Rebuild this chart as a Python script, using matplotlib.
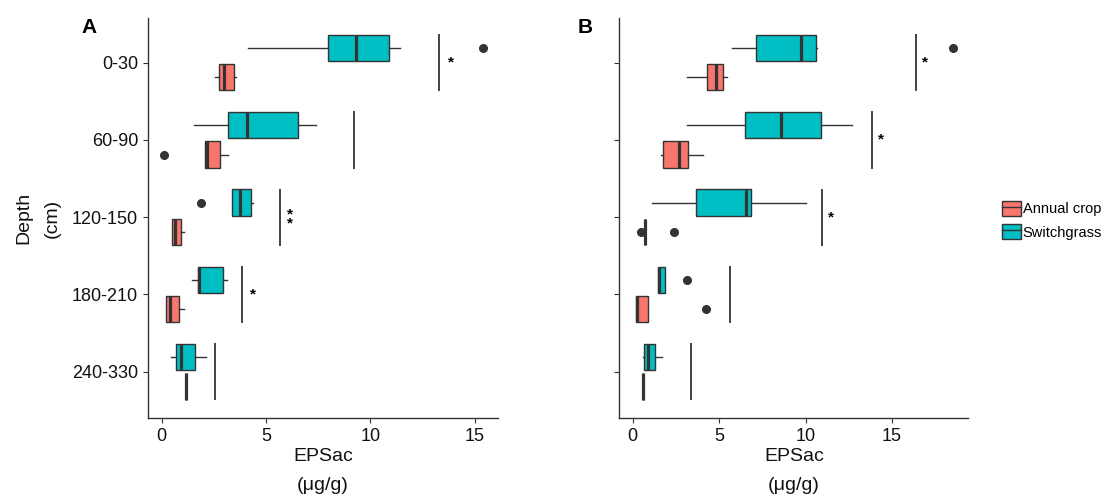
import numpy as np
import matplotlib.pyplot as plt
from matplotlib.patches import Patch
from matplotlib.lines import Line2D

plt.rcParams['font.family'] = ['Liberation Sans', 'DejaVu Sans']

depths = ['0-30', '60-90', '120-150', '180-210', '240-330']

# box stats per depth: (whisker low, q1, median, q3, whisker high)
sw_a = [(4.16, 7.97, 9.30, 10.90, 11.43),
        (1.55, 3.20, 4.10, 6.54, 7.40),
        (3.38, 3.38, 3.75, 4.26, 4.37),
        (1.44, 1.74, 1.79, 2.94, 3.13),
        (0.46, 0.70, 0.94, 1.58, 2.14)]
sw_a_out = [[15.4], [], [1.88], [], []]
ac_a = [(2.54, 2.73, 2.98, 3.49, 3.57),
        (2.10, 2.10, 2.19, 2.82, 3.19),
        (0.51, 0.51, 0.65, 0.91, 1.07),
        (0.22, 0.22, 0.40, 0.83, 1.07),
        (1.16, 1.16, 1.16, 1.16, 1.16)]
ac_a_out = [[], [0.14], [], [], []]
sig_a = [13.28, 9.23, 5.69, 3.83, 2.57]
stars_a = ['*', '', '**', '*', '']

sw_b = [(5.76, 7.13, 9.73, 10.58, 10.65),
        (3.12, 6.49, 8.60, 10.87, 12.68),
        (1.10, 3.64, 6.55, 6.84, 10.03),
        (1.48, 1.48, 1.54, 1.87, 1.87),
        (0.58, 0.65, 0.90, 1.31, 1.71)]
sw_b_out = [[18.53], [], [], [3.16], []]
ac_b = [(3.12, 4.28, 4.80, 5.24, 5.45),
        (1.64, 1.75, 2.69, 3.21, 4.05),
        (0.73, 0.73, 0.73, 0.73, 0.73),
        (0.19, 0.19, 0.27, 0.90, 0.90),
        (0.60, 0.60, 0.60, 0.60, 0.60)]
ac_b_out = [[], [], [0.5, 2.4], [4.22], []]
sig_b = [16.36, 13.83, 10.94, 5.62, 3.39]
stars_b = ['*', '*', '*', '', '']

c_ac = '#F8766D'
c_sw = '#00BFC4'
dark = '#333333'


def to_stats(rows, outs):
    return [dict(whislo=r[0], q1=r[1], med=r[2], q3=r[3], whishi=r[4], fliers=o)
            for r, o in zip(rows, outs)]


def panel(ax, sw, sw_out, ac, ac_out, sig, stars, xlim, label, label_x, show_labels):
    pos = np.arange(len(depths))
    for stats, off, col in [(to_stats(sw, sw_out), -0.19, c_sw),
                            (to_stats(ac, ac_out), 0.19, c_ac)]:
        ax.bxp(stats, positions=pos + off, widths=0.34, vert=False,
               patch_artist=True, showcaps=False,
               boxprops=dict(facecolor=col, edgecolor=dark, linewidth=1.0),
               medianprops=dict(color=dark, linewidth=2.3),
               whiskerprops=dict(color=dark, linewidth=1.0),
               flierprops=dict(marker='o', markerfacecolor=dark,
                               markeredgecolor=dark, markersize=5.5))
    for i, (x, s) in enumerate(zip(sig, stars)):
        ax.vlines(x, i - 0.37, i + 0.37, color='#222222', linewidth=1.2)
        if s == '**':
            ax.text(x + 0.45, i + 0.02, '*\n*', ha='center', va='center',
                    fontsize=11, fontweight='bold', linespacing=0.55)
        elif s:
            ax.text(x + 0.55, i, s, ha='center', va='center',
                    fontsize=11, fontweight='bold')
    ax.set_ylim(len(depths) - 0.4, -0.58)
    ax.set_xlim(*xlim)
    ax.set_xticks([0, 5, 10, 15])
    ax.set_yticks(pos)
    ax.set_yticklabels(depths if show_labels else [])
    ax.tick_params(colors=dark, labelcolor='#111111', labelsize=13, length=3.5, width=0.8)
    for s in ['top', 'right']:
        ax.spines[s].set_visible(False)
    for s in ['left', 'bottom']:
        ax.spines[s].set_color(dark)
        ax.spines[s].set_linewidth(1.0)
    ax.set_xlabel('EPSac\n(μg/g)', fontsize=14, linespacing=1.95, color='#111111',
                  labelpad=2)
    ax.text(label_x, 1.0, label, transform=ax.transAxes,
            fontsize=15, fontweight='bold', va='top', ha='left')


fig = plt.figure(figsize=(11.04, 4.96), dpi=100)
ax1 = fig.add_axes([0.134, 0.157, 0.317, 0.807])
ax2 = fig.add_axes([0.561, 0.157, 0.316, 0.807])

panel(ax1, sw_a, sw_a_out, ac_a, ac_a_out, sig_a, stars_a, (-0.65, 16.1), 'A', -0.19, True)
panel(ax2, sw_b, sw_b_out, ac_b, ac_b_out, sig_b, stars_b, (-0.77, 19.4), 'B', -0.12, False)
ax1.set_ylabel('Depth\n(cm)', fontsize=14, linespacing=1.9, color='#111111', labelpad=8)

handles = [(Patch(facecolor=c_ac, edgecolor=dark), Line2D([], [], color=dark, lw=1)),
           (Patch(facecolor=c_sw, edgecolor=dark), Line2D([], [], color=dark, lw=1))]
fig.legend(handles, ['Annual crop', 'Switchgrass'], loc='upper left',
           bbox_to_anchor=(0.902, 0.607), frameon=False, fontsize=10.5,
           handlelength=1.3, handleheight=1.2, handletextpad=0.15, labelspacing=0.55,
           borderaxespad=0.0)

fig.savefig('out.png', dpi=100)
